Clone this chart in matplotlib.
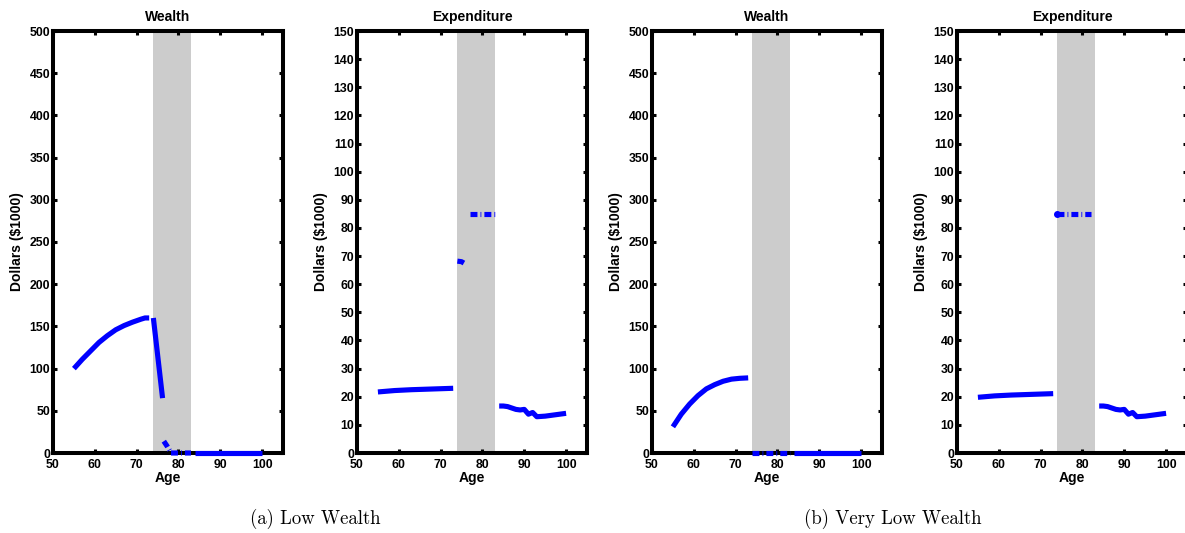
import numpy as np
import matplotlib
matplotlib.use("Agg")
import matplotlib.pyplot as plt

plt.rcParams["font.family"] = ["Liberation Sans", "DejaVu Sans"]
plt.rcParams["font.weight"] = "bold"
plt.rcParams["lines.scale_dashes"] = False

BLUE = "#0000ff"
SHADE = "#cccccc"
CARE = (74, 83)          # shaded spell, ages

# ---- low wealth -------------------------------------------------------------
lw_age_pre = [55, 57, 59, 61, 63, 65, 67, 69, 71, 72, 73]
lw_wealth_pre = [100, 111, 121, 131, 139, 146, 151, 155, 158.5, 160, 160]
lw_age_drop = [74, 76.2]
lw_wealth_drop = [160, 65]
lw_age_care = [76.5, 77.3, 78.2, 83]
lw_wealth_care = [14, 8, 0, 0]
lw_age_post = [84, 100]
lw_wealth_post = [0, 0]

lw_exp_pre_age = [55, 59, 63, 67, 71, 73]
lw_exp_pre = [21.7, 22.2, 22.5, 22.7, 22.9, 23.0]
lw_exp_blob_age = [74, 75, 75.7]
lw_exp_blob = [68.2, 68.0, 67.4]
lw_exp_care_age = [77, 83]
lw_exp_care = [85, 85]

# ---- very low wealth --------------------------------------------------------
vl_age_pre = [55, 57, 59, 61, 63, 65, 67, 69, 71, 73]
vl_wealth_pre = [31, 46, 58, 68, 76, 81, 85, 87.5, 88.5, 89]
vl_age_care = [74, 83]
vl_wealth_care = [0, 0]
vl_age_post = [84, 100]
vl_wealth_post = [0, 0]

vl_exp_pre_age = [55, 59, 63, 67, 71, 73]
vl_exp_pre = [19.8, 20.3, 20.6, 20.8, 21.0, 21.1]
vl_exp_care_age = [74, 82]
vl_exp_care = [85, 85]

# expenditure after the spell (same in both cases)
post_age = [84, 85, 86, 87, 88, 89, 90, 91, 92, 93, 94, 95, 96, 97, 98, 99, 100]
post_exp = [16.7, 16.7, 16.5, 16.0, 15.5, 15.3, 15.5, 13.8, 14.4, 12.9, 13.0,
            13.1, 13.3, 13.5, 13.7, 13.9, 14.1]

DASHDOT = (0, (5.0, 2.2, 0.6, 2.2))
LW = 3.7

fig = plt.figure(figsize=(11.85, 5.33), dpi=100)
W, H = 1185, 533
lefts = [53, 357, 652, 957]
axes = [fig.add_axes([l / W, 80 / H, 230 / W, 422 / H]) for l in lefts]


def style(ax, title, ymax, ystep):
    ax.axvspan(*CARE, color=SHADE, lw=0, zorder=0)
    ax.set_xlim(50, 105)
    ax.set_ylim(0, ymax)
    ax.set_xticks(np.arange(50, 101, 10))
    ax.set_yticks(np.arange(0, ymax + 1, ystep))
    ax.tick_params(direction="in", length=3, width=2.2, labelsize=8.8,
                   top=True, right=True)
    ax.tick_params(axis="x", pad=4)
    ax.tick_params(axis="y", pad=2)
    for s in ax.spines.values():
        s.set_linewidth(2.9)
    ax.set_title(title, fontsize=10, fontweight="bold", pad=7)
    ax.set_xlabel("Age", fontsize=10, fontweight="bold", labelpad=0)
    ax.set_ylabel("Dollars ($1000)", fontsize=10, fontweight="bold")


def line(ax, x, y, ls="-"):
    ax.plot(x, y, color=BLUE, lw=LW, ls=ls, solid_capstyle="butt",
            dash_capstyle="butt", zorder=3, clip_on=False)


# low wealth: wealth
a = axes[0]
style(a, "Wealth", 500, 50)
line(a, lw_age_pre, lw_wealth_pre)
line(a, lw_age_drop, lw_wealth_drop)
line(a, lw_age_care, lw_wealth_care, DASHDOT)
line(a, lw_age_post, lw_wealth_post)

# low wealth: expenditure
a = axes[1]
style(a, "Expenditure", 150, 10)
line(a, lw_exp_pre_age, lw_exp_pre)
line(a, lw_exp_blob_age, lw_exp_blob, DASHDOT)
line(a, lw_exp_care_age, lw_exp_care, DASHDOT)
line(a, post_age, post_exp)

# very low wealth: wealth
a = axes[2]
style(a, "Wealth", 500, 50)
line(a, vl_age_pre, vl_wealth_pre)
line(a, vl_age_care, vl_wealth_care, DASHDOT)
line(a, vl_age_post, vl_wealth_post)

# very low wealth: expenditure
a = axes[3]
style(a, "Expenditure", 150, 10)
line(a, vl_exp_pre_age, vl_exp_pre)
line(a, vl_exp_care_age, vl_exp_care, DASHDOT)
a.plot(vl_exp_care_age[:1], vl_exp_care[:1], "o", color=BLUE, ms=4, zorder=4)
line(a, post_age, post_exp)

cap = dict(fontsize=13.5, family="cmr10", fontweight="normal", ha="center", va="center")
fig.text(315 / W, 1 - 519 / H, "(a) Low Wealth", **cap)
fig.text(893 / W, 1 - 519 / H, "(b) Very Low Wealth", **cap)

fig.savefig("out.png", dpi=100)
